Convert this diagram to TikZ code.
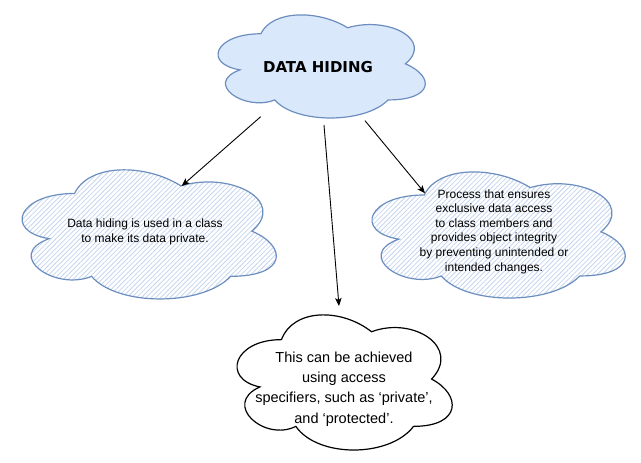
\documentclass[tikz,border=0pt]{standalone}
\usepackage{fontspec}
\setmainfont{Liberation Sans}
\newfontfamily\titlefont{DejaVu Sans}
\usetikzlibrary{arrows.meta,patterns.meta}
\definecolor{blstroke}{HTML}{6C8EBF}
\definecolor{blfill}{HTML}{DAE8FC}
\definecolor{hatchc}{HTML}{C4D5EE}
\newcommand\cloudat[4]{({#1+0.25*#3},{#2+0.25*#4}) .. controls ({#1+0.05*#3},{#2+0.25*#4}) and ({#1},{#2+0.5*#4}) .. ({#1+0.16*#3},{#2+0.55*#4}) .. controls ({#1},{#2+0.66*#4}) and ({#1+0.18*#3},{#2+0.9*#4}) .. ({#1+0.31*#3},{#2+0.8*#4}) .. controls ({#1+0.4*#3},{#2+#4}) and ({#1+0.7*#3},{#2+#4}) .. ({#1+0.8*#3},{#2+0.8*#4}) .. controls ({#1+#3},{#2+0.8*#4}) and ({#1+#3},{#2+0.6*#4}) .. ({#1+0.875*#3},{#2+0.5*#4}) .. controls ({#1+#3},{#2+0.3*#4}) and ({#1+0.8*#3},{#2+0.1*#4}) .. ({#1+0.625*#3},{#2+0.2*#4}) .. controls ({#1+0.5*#3},{#2+0.05*#4}) and ({#1+0.3*#3},{#2+0.05*#4}) .. ({#1+0.25*#3},{#2+0.25*#4}) -- cycle}
\tikzset{
  bluecloud/.style={draw=blstroke, fill=blfill, line width=1.2pt},
  hatchcloud/.style={draw=blstroke, line width=1.2pt, pattern={Lines[angle=45,distance=3.4pt,line width=0.8pt]}, pattern color=hatchc},
  blackcloud/.style={draw=black, fill=white, line width=1.2pt},
  smalltext/.style={align=center, font=\fontsize{12}{14.6}\selectfont, inner sep=0pt},
  bigtext/.style={align=center, font=\fontsize{14.5}{20.3}\selectfont, inner sep=0pt},
  conn/.style={draw=black, line width=0.9pt, -{Stealth[length=8pt,width=6.5pt,inset=2pt]}},
}
\begin{document}
\begin{tikzpicture}[x=1pt,y=-1pt]
\useasboundingbox (0,0) rectangle (641,463);
% clouds
\draw[bluecloud] \cloudat{203}{3.7}{231.3}{120.3};
\draw[hatchcloud] \cloudat{3.6}{155.8}{283.8}{150.7};
\draw[hatchcloud] \cloudat{353.6}{158.2}{282.7}{147.2};
\draw[blackcloud] \cloudat{221.4}{300.2}{240.2}{157.7};
% texts
\node (title) at (318,67) {\titlefont\bfseries\fontsize{15}{18}\selectfont DATA HIDING};
\node[smalltext] (left) at (145,232) {Data hiding is used in a class\\to make its data private.};
\node[smalltext] (right) at (494,231.5) {Process that ensures\\exclusive data access\\to class members and\\provides object integrity\\by preventing unintended or\\intended changes.};
\node[bigtext] (bottom) at (344,389) {This can be achieved\\using access\\specifiers, such as ‘private’,\\and ‘protected’.};
% connector ends
\coordinate (s1) at (260.7,116.7);
\coordinate (e1) at (181.7,186);
\coordinate (s2) at (324,125);
\coordinate (e2) at (339,306);
\coordinate (s3) at (365,120.7);
\coordinate (e3) at (425,193.3);
\draw[conn] (s1) -- (e1);
\draw[conn] (s2) -- (e2);
\draw[conn] (s3) -- (e3);
\end{tikzpicture}
\end{document}
